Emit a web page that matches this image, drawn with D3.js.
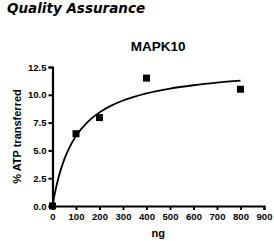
<!DOCTYPE html>
<html>
<head>
<meta charset="utf-8">
<script src="https://cdn.jsdelivr.net/npm/d3@7"></script>
<style>
  html, body { margin: 0; padding: 0; background: #fff; }
  svg { display: block; }
  text { font-family: "Liberation Sans", Arial, sans-serif; font-weight: bold; fill: #000; }
</style>
</head>
<body>
<div id="chart"></div>
<script>
// measured points
var doseNg = [0, 100, 200, 400, 800];
var atpPct = [0, 6.5, 7.95, 11.5, 10.5];

// fitted curve
var curveNg = [0, 10, 25, 50, 75, 100, 150, 200, 250, 300, 400, 500, 600, 700, 800];
var curvePct = [0, 1.14, 2.51, 4.19, 5.39, 6.3, 7.57, 8.42, 9.03, 9.49, 10.13, 10.56, 10.86, 11.09, 11.27];

var xTicks = [0, 100, 200, 300, 400, 500, 600, 700, 800, 900];
var yTicks = [0, 2.5, 5, 7.5, 10, 12.5];

var W = 274, H = 241;
var margin = { left: 52.5, right: 10, top: 67, bottom: 35 };

var svg = d3.select('#chart').append('svg').attr('width', W).attr('height', H);

svg.append('text')
  .attr('x', 7).attr('y', 12.7)
  .style('font-family', '"DejaVu Sans", Verdana, sans-serif')
  .style('font-style', 'italic')
  .style('font-size', '13.5px')
  .text('Quality Assurance');

var x = d3.scaleLinear().domain([0, 900]).range([margin.left, 264]);
var y = d3.scaleLinear().domain([0, 12.5]).range([206, margin.top]);

svg.append('text')
  .attr('x', (x(0) + x(900)) / 2).attr('y', 51)
  .attr('text-anchor', 'middle')
  .style('font-size', '13.5px')
  .text('MAPK10');

var g = svg.append('g');

function styleAxis(a) {
  a.select('.domain').attr('stroke', '#000').attr('stroke-width', 2.2);
  a.selectAll('.tick line').attr('stroke', '#000').attr('stroke-width', 2);
  a.selectAll('text').style('font-size', '9.5px').style('font-family', '"Liberation Sans", Arial, sans-serif').attr('fill', '#000');
}

g.append('g')
  .attr('transform', 'translate(0,' + y(0) + ')')
  .call(d3.axisBottom(x).tickValues(xTicks).tickSize(4).tickPadding(3).tickFormat(d3.format('d')))
  .call(styleAxis);

g.append('g')
  .attr('transform', 'translate(' + x(0) + ',0)')
  .call(d3.axisLeft(y).tickValues(yTicks).tickSize(4).tickPadding(2).tickFormat(d3.format('.1f')))
  .call(styleAxis);

var curve = curveNg.map(function (d, i) { return [d, curvePct[i]]; });
g.append('path').datum(curve)
  .attr('fill', 'none')
  .attr('stroke', '#000')
  .attr('stroke-width', 1.8)
  .attr('d', d3.line()
    .curve(d3.curveMonotoneX)
    .x(function (d) { return x(d[0]); })
    .y(function (d) { return y(d[1]); }));

var pts = doseNg.map(function (d, i) { return [d, atpPct[i]]; });
var s = 7;
g.selectAll('.pt').data(pts).enter().append('rect')
  .attr('class', 'pt')
  .attr('x', function (d) { return x(d[0]) - s / 2; })
  .attr('y', function (d) { return y(d[1]) - s / 2; })
  .attr('width', s).attr('height', s)
  .attr('fill', '#000');

svg.append('text')
  .attr('x', (x(0) + x(900)) / 2).attr('y', 236.5)
  .attr('text-anchor', 'middle')
  .style('font-size', '11px')
  .text('ng');

svg.append('text')
  .attr('transform', 'translate(21,' + 136.5 + ') rotate(-90)')
  .attr('text-anchor', 'middle')
  .style('font-size', '11px')
  .text('% ATP transferred');
</script>
</body>
</html>
